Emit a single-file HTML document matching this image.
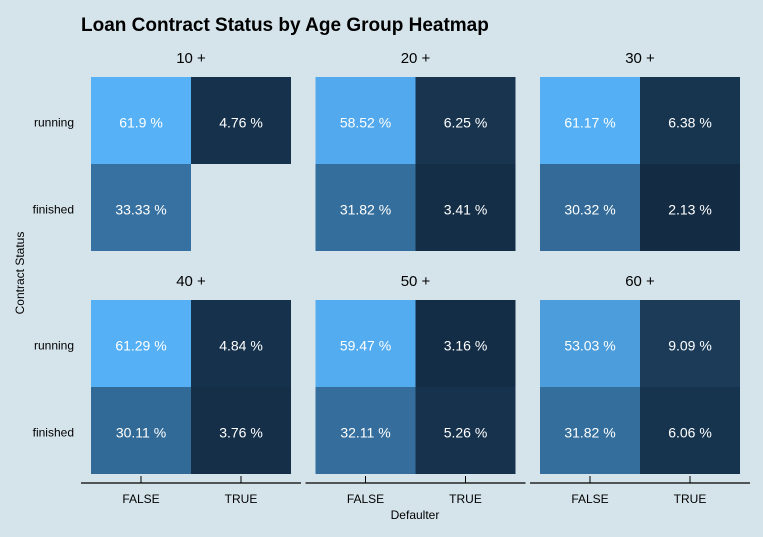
<!DOCTYPE html>
<html><head><meta charset="utf-8"><style>
body{margin:0;background:#d5e4eb;}
svg{display:block;font-family:"Liberation Sans",Arial,sans-serif;}
</style></head><body>
<svg id="c" width="763" height="537">
<rect width="763" height="537" fill="#d5e4eb"/>
<text x="81" y="31" font-size="19" font-weight="bold" fill="#000">Loan Contract Status by Age Group Heatmap</text>
<text x="24" y="273" font-size="12" text-anchor="middle" transform="rotate(-90 24 273)">Contract Status</text>
<text x="415" y="519" font-size="12" text-anchor="middle">Defaulter</text>
</svg>
<script>
const facets=["10 +","20 +","30 +","40 +","50 +","60 +"];
const xCats=["FALSE","TRUE"];
const yCats=["running","finished"];
const runFalse=[61.9,58.52,61.17,61.29,59.47,53.03];
const runTrue=[4.76,6.25,6.38,4.84,3.16,9.09];
const finFalse=[33.33,31.82,30.32,30.11,32.11,31.82];
const finTrue=[null,3.41,2.13,3.76,5.26,6.06];
const svg=document.getElementById('c');
const NS="http://www.w3.org/2000/svg";
const all=[...runFalse,...runTrue,...finFalse,...finTrue].filter(v=>v!=null);
const vmin=Math.min(...all),vmax=Math.max(...all);
function col(v){const t=(v-vmin)/(vmax-vmin);const a=[19,43,67],b=[86,177,247];
return `rgb(${a.map((x,i)=>Math.round(x+(b[i]-x)*t)).join(',')})`;}
function el(tag,attrs,txt){const e=document.createElementNS(NS,tag);for(const k in attrs)e.setAttribute(k,attrs[k]);if(txt!=null)e.textContent=txt;svg.appendChild(e);return e;}
const panelX=[91,315.5,540],panelY=[77,300],tileW=100,tileH=87;
function xPos(p,i){return panelX[p]+i*tileW;}
function yPos(r,j){return panelY[r]+j*tileH;}
facets.forEach((f,k)=>{
  const p=k%3,r=Math.floor(k/3);
  const s=el('text',{x:panelX[p]+tileW,y:panelY[r]-14,'font-size':15,'text-anchor':'middle'},f);
  
  
  const vals=[[runFalse[k],runTrue[k]],[finFalse[k],finTrue[k]]];
  vals.forEach((row,j)=>row.forEach((v,i)=>{
    if(v==null)return;
    const rc=el('rect',{x:xPos(p,i),y:yPos(r,j),width:tileW,height:tileH,fill:col(v)});
    
    
    const t=el('text',{x:xPos(p,i)+tileW/2,y:yPos(r,j)+tileH/2+7,'font-size':14,'text-anchor':'middle',fill:'#fff'},v+' %');
    
    
  }));
  if(p===0){yCats.forEach((c,j)=>{
    const t=el('text',{x:74,y:yPos(r,j)+tileH/2+6,'font-size':12,'text-anchor':'end'},c);
    
    
  });}
  if(r===1){
    const ax=el('line',{x1:panelX[p]-10,x2:panelX[p]+2*tileW+10,y1:483,y2:483,stroke:'#000','stroke-width':1.3});
    
    
    xCats.forEach((c,i)=>{
      const cx=xPos(p,i)+tileW/2;
      const tk=el('line',{x1:cx,x2:cx,y1:476,y2:483,stroke:'#000'});
      
      
      const t=el('text',{x:cx,y:503,'font-size':12,'text-anchor':'middle'},c);
      
      
    });
  }
});
</script>
</body></html>
